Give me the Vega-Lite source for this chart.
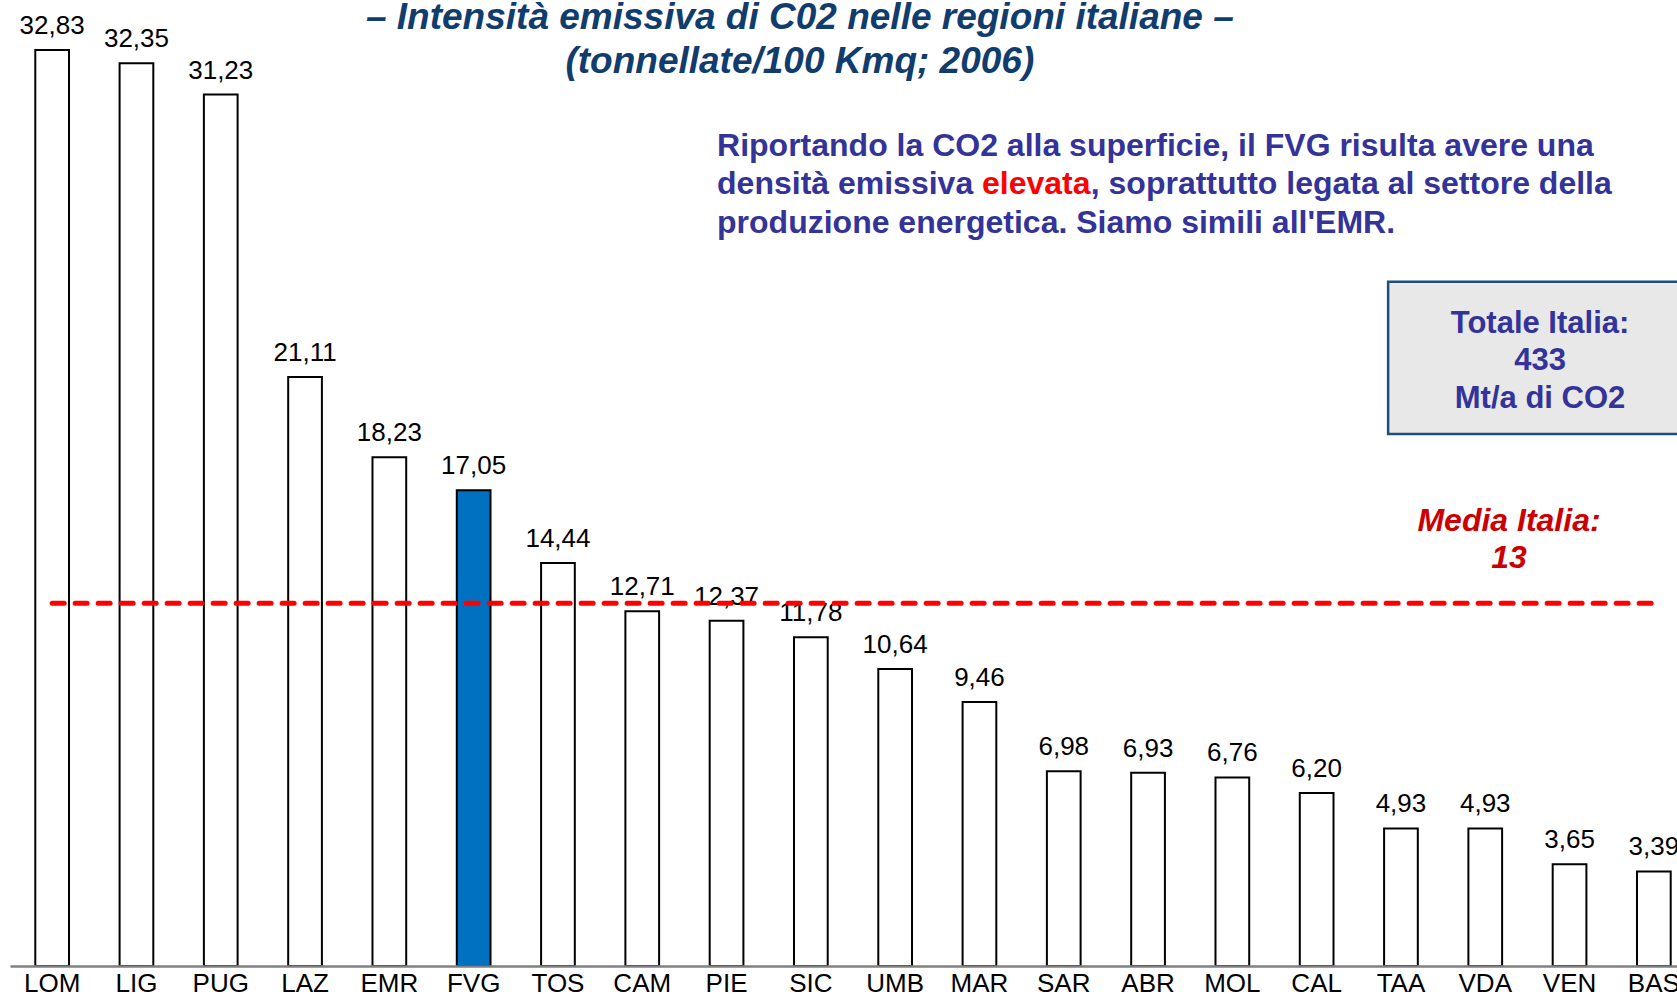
{
  "$schema": "https://vega.github.io/schema/vega-lite/v6.json",
  "width": 1667,
  "height": 966,
  "autosize": "none",
  "padding": {"left": 10, "top": 0, "right": 0, "bottom": 29},
  "background": "white",
  "config": {
    "view": {"stroke": null},
    "font": "Liberation Sans",
    "locale": {"number": {"decimal": ",", "thousands": ".", "grouping": [3], "currency": ["€", ""]}}
  },
  "data": {
    "values": [
      {"region": "LOM", "value": 32.83},
      {"region": "LIG", "value": 32.35},
      {"region": "PUG", "value": 31.23},
      {"region": "LAZ", "value": 21.11},
      {"region": "EMR", "value": 18.23},
      {"region": "FVG", "value": 17.05},
      {"region": "TOS", "value": 14.44},
      {"region": "CAM", "value": 12.71},
      {"region": "PIE", "value": 12.37},
      {"region": "SIC", "value": 11.78},
      {"region": "UMB", "value": 10.64},
      {"region": "MAR", "value": 9.46},
      {"region": "SAR", "value": 6.98},
      {"region": "ABR", "value": 6.93},
      {"region": "MOL", "value": 6.76},
      {"region": "CAL", "value": 6.20},
      {"region": "TAA", "value": 4.93},
      {"region": "VDA", "value": 4.93},
      {"region": "VEN", "value": 3.65},
      {"region": "BAS", "value": 3.39}
    ]
  },
  "layer": [
    {
      "mark": {"type": "bar", "stroke": "black", "strokeWidth": 2},
      "encoding": {
        "x": {
          "field": "region", "type": "nominal", "sort": null,
          "scale": {"range": [0, 1686], "paddingInner": 0.6, "paddingOuter": 0.3},
          "axis": {"title": null, "labelAngle": 0, "labelFontSize": 26, "labelColor": "black", "labelFont": "Liberation Sans", "ticks": false, "labelPadding": 4, "domainColor": "#808080", "domainWidth": 2.5, "zindex": 1, "grid": false}
        },
        "y": {"field": "value", "type": "quantitative", "scale": {"domain": [0, 34.62], "nice": false, "zero": true}, "axis": null},
        "fill": {"condition": {"test": "datum.region === 'FVG'", "value": "#0070C0"}, "value": "white"}
      }
    },
    {
      "mark": {"type": "text", "dy": -16, "baseline": "alphabetic", "fontSize": 26, "color": "black"},
      "encoding": {
        "x": {"field": "region", "type": "nominal", "sort": null},
        "y": {"field": "value", "type": "quantitative"},
        "text": {"field": "value", "type": "quantitative", "format": ".2f"}
      }
    },
    {
      "data": {"values": [{}]},
      "mark": {"type": "rule", "color": "#FF0000", "strokeWidth": 5, "strokeDash": [12, 11], "strokeCap": "round"},
      "encoding": {"x": {"datum": "LOM"}, "x2": {"datum": "BAS"}, "y": {"datum": 13}}
    },
    {
      "data": {"values": [{}]},
      "mark": {"type": "text", "text": ["– Intensità emissiva di C02 nelle regioni italiane –", "(tonnellate/100 Kmq; 2006)"], "fontSize": 37, "fontWeight": "bold", "fontStyle": "italic", "color": "#103C6E", "align": "center", "baseline": "alphabetic", "lineHeight": 43.6, "dx": -11},
      "encoding": {"x": {"datum": "SIC"}, "y": {"datum": 33.58}}
    },
    {
      "data": {"values": [{}]},
      "mark": {"type": "text", "text": "Riportando la CO2 alla superficie, il FVG risulta avere una", "fontSize": 32, "fontWeight": "bold", "color": "#333399", "align": "left", "baseline": "alphabetic", "dx": -9.5},
      "encoding": {"x": {"datum": "PIE"}, "y": {"datum": 29.03}}
    },
    {
      "data": {"values": [{}]},
      "mark": {"type": "text", "text": "densità emissiva", "fontSize": 32, "fontWeight": "bold", "color": "#333399", "align": "left", "baseline": "alphabetic", "dx": -9.5},
      "encoding": {"x": {"datum": "PIE"}, "y": {"datum": 27.65}}
    },
    {
      "data": {"values": [{}]},
      "mark": {"type": "text", "text": "elevata", "fontSize": 32, "fontWeight": "bold", "color": "#FF0000", "align": "left", "baseline": "alphabetic", "dx": 2.5},
      "encoding": {"x": {"datum": "MAR"}, "y": {"datum": 27.65}}
    },
    {
      "data": {"values": [{}]},
      "mark": {"type": "text", "text": ", soprattutto legata al settore della", "fontSize": 32, "fontWeight": "bold", "color": "#333399", "align": "left", "baseline": "alphabetic", "dx": 27},
      "encoding": {"x": {"datum": "SAR"}, "y": {"datum": 27.65}}
    },
    {
      "data": {"values": [{}]},
      "mark": {"type": "text", "text": "produzione energetica. Siamo simili all'EMR.", "fontSize": 32, "fontWeight": "bold", "color": "#333399", "align": "left", "baseline": "alphabetic", "dx": -9.5},
      "encoding": {"x": {"datum": "PIE"}, "y": {"datum": 26.27}}
    },
    {
      "data": {"values": [{}]},
      "mark": {"type": "rect", "fill": "#E8E8E8", "stroke": "#1F4E79", "strokeWidth": 2.5},
      "encoding": {"x": {"datum": "TAA", "bandPosition": 0.12}, "x2": {"datum": "BAS", "bandPosition": 1.5}, "y": {"datum": 24.52}, "y2": {"datum": 19.07}}
    },
    {
      "data": {"values": [{}]},
      "mark": {"type": "text", "text": ["Totale Italia:", "433", "Mt/a di CO2"], "fontSize": 31, "fontWeight": "bold", "color": "#333399", "align": "center", "baseline": "alphabetic", "lineHeight": 37.5, "dx": -29.5},
      "encoding": {"x": {"datum": "VEN"}, "y": {"datum": 22.69}}
    },
    {
      "data": {"values": [{}]},
      "mark": {"type": "text", "text": ["Media Italia:", "13"], "fontSize": 32, "fontWeight": "bold", "fontStyle": "italic", "color": "#CC0000", "align": "center", "baseline": "alphabetic", "lineHeight": 37, "dx": 23.75},
      "encoding": {"x": {"datum": "VDA"}, "y": {"datum": 15.59}}
    }
  ]
}
